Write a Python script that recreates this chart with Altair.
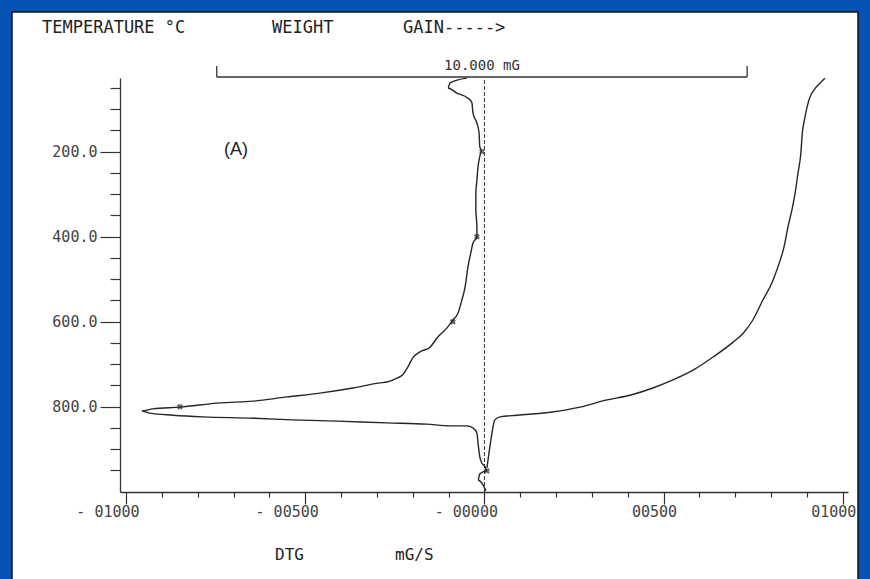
import altair as alt
import pandas as pd

# ---------------- data ----------------
# DTG curve (x in DTG units, T in deg C)
dtg_x = [-49, -96, -102, -77, -46, -35, -32, -21, -15, -13, -7, -15, -18, -21, -24, -24,
         -21, -21, -32, -38, -46, -54, -63, -74, -88, -105, -130, -152, -180, -200, -214,
         -228, -244, -272, -292, -367, -459, -551, -646, -738, -850, -925, -956, -934,
         -869, -786, -646, -535, -412, -272, -161, -96, -49, -32, -21, -18, -13, -7, 1,
         7, -13, -18, -4, 4]
dtg_t = [27, 38, 50, 62, 74, 85, 109, 133, 156, 189, 196, 220, 236, 267, 297, 337,
         377, 401, 415, 438, 471, 518, 549, 580, 596, 615, 636, 660, 671, 685, 707,
         725, 733, 742, 744, 756, 768, 777, 787, 791, 801, 805, 810, 815,
         820, 824, 827, 831, 834, 838, 841, 845, 845, 850, 862, 885, 918, 933, 940,
         951, 958, 973, 984, 998]

# TG (weight) curve, drawn in the same horizontal units
tg_x = [950, 935, 922, 912, 905, 899, 893, 887, 883, 875, 867, 858, 847, 836, 819, 802, 777,
        749, 722, 694, 638, 582, 526, 470, 406, 342, 267, 183, 91, 43, 29, 21, 15, 10, 7]
tg_t = [27, 40, 52, 65, 80, 100, 125, 156, 203, 250, 297, 337, 377, 424, 471, 509, 549,
        596, 627, 648, 683, 714, 737, 756, 773, 784, 801, 813, 820, 824, 831, 862,
        895, 925, 944]

# asterisk markers on the DTG trace
marker_x = [-7, -21, -88, -850, 7]
marker_t = [200, 400, 600, 800, 951]

# axes
x_tick_values = list(range(-1000, 1001, 100))
x_label_values = [-1000, -500, 0, 500, 1000]
x_label_texts = ["- 01000", "- 00500", "- 00000", "00500", "01000"]
y_tick_values = list(range(50, 1000, 50))
y_label_values = [200, 400, 600, 800]
y_label_texts = ["200.0", "400.0", "600.0", "800.0"]

# 10 mG scale bar (ends, in DTG units)
scale_bar = [-747, 733]
scale_bar_label = "10.000 mG"

header_texts = ["TEMPERATURE °C", "WEIGHT", "GAIN----->"]
panel_label = "(A)"
x_title_texts = ["DTG", "mG/S"]

# ---------------- build ----------------
MONO = "DejaVu Sans Mono"
INK = "#262626"

curves = pd.DataFrame(
    [{"series": "DTG", "idx": i, "x": x, "T": t} for i, (x, t) in enumerate(zip(dtg_x, dtg_t))]
    + [{"series": "TG", "idx": i, "x": x, "T": t} for i, (x, t) in enumerate(zip(tg_x, tg_t))]
)
markers = pd.DataFrame({"x": marker_x, "T": marker_t})


def label_expr(values, texts):
    parts = [f"datum.value == {v} ? '{t}'" for v, t in zip(values, texts)]
    return " : ".join(parts) + " : ''"


x_axis = alt.Axis(
    values=x_tick_values,
    labelExpr=label_expr(x_label_values, x_label_texts),
    tickSize={"condition": {"test": "datum.value % 500 === 0", "value": 12}, "value": 5},
    labelFont=MONO, labelFontSize=15, labelColor="#444",
    labelAlign="right", labelOffset=13, labelPadding=0,
    domainColor="#333", tickColor="#333", domainWidth=1.3, tickWidth=1.2,
    grid=False, title=None, zindex=1, labelFlush=False, labelOverlap=False,
)
y_axis = alt.Axis(
    values=y_tick_values,
    labelExpr=label_expr(y_label_values, y_label_texts),
    tickSize={"condition": {"test": "datum.value % 200 === 0", "value": 20}, "value": 10},
    labelFont=MONO, labelFontSize=15, labelColor="#444", labelPadding=3,
    domainColor="#333", tickColor="#333", domainWidth=1.3, tickWidth=1.2,
    grid=False, title=None, zindex=1, labelFlush=False, labelOverlap=False,
)

x_scale = alt.Scale(domain=[-1017, 1014.5], nice=False, zero=False)
y_scale = alt.Scale(domain=[26.6, 1000.7], nice=False, zero=False, reverse=True)

X = alt.X("x:Q", scale=x_scale, axis=x_axis)
Y = alt.Y("T:Q", scale=y_scale, axis=y_axis)

one = alt.Data(values=[{}])

panel = alt.Chart(one).mark_rect(fill="white", stroke="#111", strokeWidth=1.5).encode(
    x=alt.value(-108), x2=alt.value(738), y=alt.value(-66), y2=alt.value(520)
)

lines = alt.Chart(curves).mark_line(color=INK, strokeWidth=1.4, interpolate="monotone").encode(
    x=X, y=Y, detail="series:N", order="idx:Q"
)

pts = alt.Chart(markers).mark_point(shape="cross", size=35, filled=True, color=INK, angle=45).encode(
    x=X, y=Y
)

zero_line = alt.Chart(pd.DataFrame({"x": [0]})).mark_rule(
    color="#333", strokeWidth=1, strokeDash=[4, 2]
).encode(x=X, y=alt.value(2), y2=alt.value(422))

bar_df = pd.DataFrame({"x": [scale_bar[0]], "x2": [scale_bar[1]]})
bar = alt.Chart(bar_df).mark_rule(color="#333", strokeWidth=1.3).encode(
    x=X, x2="x2:Q", y=alt.value(-1)
)
bar_ends = alt.Chart(pd.DataFrame({"x": scale_bar})).mark_rule(color="#333", strokeWidth=1.3).encode(
    x=X, y=alt.value(-12), y2=alt.value(-1)
)
bar_text = alt.Chart(pd.DataFrame({"x": [sum(scale_bar) / 2], "t": [scale_bar_label]})).mark_text(
    font=MONO, fontSize=14, color="#333", baseline="middle", align="center"
).encode(x=X, y=alt.value(-12), text="t:N")


def label(text, px, py, font=MONO, size=16, align="left", color="#222"):
    return alt.Chart(one).mark_text(
        text=text, font=font, fontSize=size, align=align, baseline="middle", color=color
    ).encode(x=alt.value(px), y=alt.value(py))


texts = [
    label(header_texts[0], -78, -50, size=17),
    label(header_texts[1], 152, -50, size=17),
    label(header_texts[2], 283, -50, size=17),
    label(panel_label, 104, 72, font="Liberation Sans", size=18),
    label(x_title_texts[0], 155, 477, size=16),
    label(x_title_texts[1], 275, 477, size=16),
]

chart = alt.layer(
    panel, zero_line, bar, bar_ends, bar_text, lines, pts, *texts
).properties(
    width=728,
    height=414,
    padding={"left": 120, "top": 78, "right": 22, "bottom": 87},
    autosize=alt.AutoSizeParams(type="none"),
    background="#0653b5",
).configure_view(stroke=None)

chart.save("out.html", embed_options={"renderer": "svg", "actions": False})
